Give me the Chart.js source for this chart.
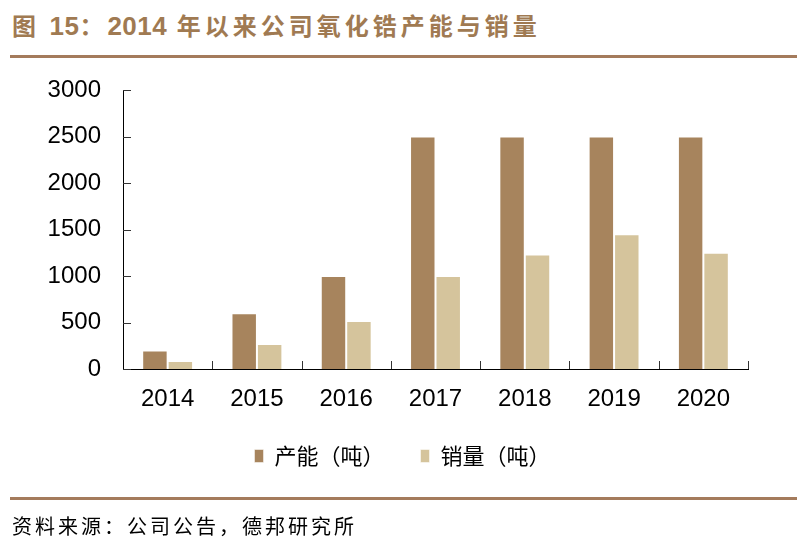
<!DOCTYPE html>
<html>
<head>
<meta charset="utf-8">
<script src="https://cdn.jsdelivr.net/npm/chart.js@4"></script>
<style>
  html, body { margin: 0; padding: 0; background: #fff; }
  #wrap { position: relative; width: 805px; height: 546px; overflow: hidden; }
  #title {
    position: absolute; left: 12px; top: 7px;
    font: bold 24px "Noto Sans CJK SC", sans-serif;
    letter-spacing: 4px;
    color: #a07a52; white-space: nowrap;
  }
  #title .num { font-family: "Liberation Sans", Arial, sans-serif; font-size: 26px; letter-spacing: 0.5px; }
  .rule { position: absolute; left: 10px; width: 787px; height: 3px; background: #a47b5c; }
  #source {
    position: absolute; left: 12px; top: 511px;
    font: 20px "Noto Sans CJK SC", sans-serif; color: #000;
    letter-spacing: 3px; white-space: nowrap;
  }
  #c { position: absolute; left: 0; top: 0; }
</style>
</head>
<body>
<div id="wrap">
  <div id="title">图 <span class="num">15</span>：<span class="num">2014</span> 年以来公司氧化锆产能与销量</div>
  <div class="rule" style="top:55px"></div>
  <canvas id="c" width="805" height="546"></canvas>
  <div class="rule" style="top:497px"></div>
  <div id="source">资料来源：公司公告，德邦研究所</div>
</div>
<script>
/* ---------- data ---------- */
const years = ["2014", "2015", "2016", "2017", "2018", "2019", "2020"];
const capacity = [200, 600, 1000, 2500, 2500, 2500, 2500];
const sales = [85, 270, 515, 1000, 1230, 1450, 1250];
const yTicks = [0, 500, 1000, 1500, 2000, 2500, 3000];

/* ---------- inside tick marks ---------- */
const innerTicks = {
    id: "innerTicks",
    afterDraw(chart) {
        const ctx = chart.ctx;
        const xs = chart.scales.x;
        const ys = chart.scales.y;
        ctx.save();
        ctx.lineWidth = 1;
        ctx.strokeStyle = "#333";
        ctx.beginPath();
        yTicks.forEach(v => {
            const py = Math.round(ys.getPixelForValue(v)) + 0.5;
            ctx.moveTo(ys.right, py);
            ctx.lineTo(ys.right + 8, py);
        });
        const n = years.length;
        for (let i = 1; i <= n; i++) {
            const px = Math.round(xs.getPixelForDecimal(i / n)) + 0.5;
            ctx.moveTo(px, xs.top);
            ctx.lineTo(px, xs.top - 8);
        }
        ctx.stroke();
        ctx.restore();
    }
};

new Chart(document.getElementById("c"), {
    type: "bar",
    data: {
        labels: years,
        datasets: [
            {
                label: "产能（吨）",
                data: capacity,
                backgroundColor: "#a7845d",
                borderColor: "rgba(255,255,255,0.5)",
                borderWidth: 1
            },
            {
                label: "销量（吨）",
                data: sales,
                backgroundColor: "#d5c49c",
                borderColor: "rgba(255,255,255,0.5)",
                borderWidth: 1
            }
        ]
    },
    options: {
        responsive: false,
        animation: false,
        layout: { padding: { left: 0, top: 90, right: 0, bottom: 69 } },
        datasets: {
            bar: { categoryPercentage: 0.57, barPercentage: 1 }
        },
        scales: {
            x: {
                grid: { display: false, drawTicks: false },
                border: { color: "#000", width: 1 },
                ticks: {
                    color: "#000",
                    padding: 16,
                    font: { family: "Liberation Sans, Arial", size: 24 }
                },
                afterFit(s) { s.height = 40; }
            },
            y: {
                min: 0,
                max: 3000,
                grid: { display: false, drawTicks: false },
                border: { color: "#000", width: 1 },
                afterBuildTicks(s) { s.ticks = yTicks.map(v => ({ value: v })); },
                ticks: {
                    color: "#000",
                    padding: 22,
                    callback: v => String(v),
                    font: { family: "Liberation Sans, Arial", size: 24 }
                },
                afterFit(s) { s.width = 123; }
            },
            // empty right axis, only keeps space to the right of the plot
            yRight: {
                position: "right",
                grid: { display: false, drawTicks: false },
                border: { display: false },
                ticks: { display: false },
                afterFit(s) { s.width = 57; }
            }
        },
        plugins: {
            legend: {
                position: "bottom",
                labels: {
                    boxWidth: 9,
                    boxHeight: 13,
                    padding: 36,
                    color: "#000",
                    font: { family: "Noto Sans CJK SC", size: 22 }
                }
            },
            tooltip: { enabled: false }
        }
    },
    plugins: [innerTicks]
});
</script>
</body>
</html>
